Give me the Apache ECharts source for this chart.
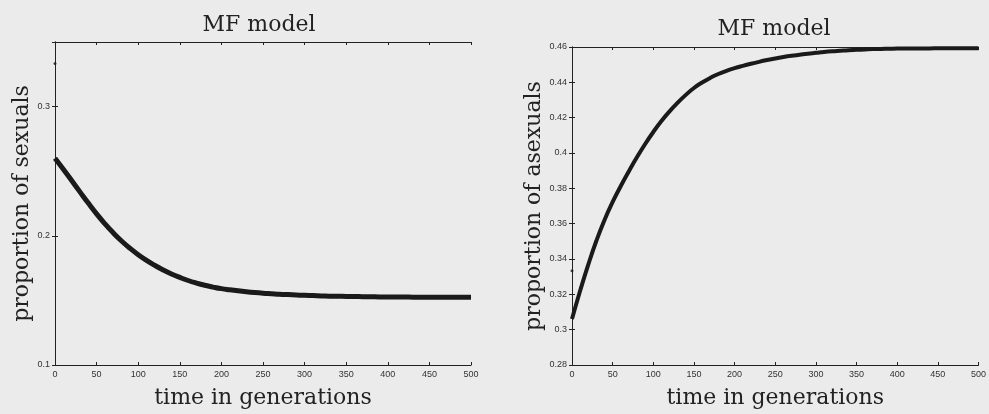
<!DOCTYPE html>
<html>
<head>
    <meta charset="utf-8"/>
    <title>MF model</title>
    <script src="https://cdn.jsdelivr.net/npm/echarts@6/dist/echarts.min.js"></script>
    <style>
        html, body { margin: 0; padding: 0; background: #ebebeb; }
    </style>
</head>
<body>
<div id="main" style="width: 989px; height: 414px"></div>
<script type="text/javascript">
    // generations sampled every 10
    var generations = [0, 10, 20, 30, 40, 50, 60, 70, 80, 90, 100, 110, 120, 130, 140, 150, 160, 170, 180, 190,
        200, 210, 220, 230, 240, 250, 260, 270, 280, 290, 300, 310, 320, 330, 340, 350, 360, 370, 380, 390,
        400, 410, 420, 430, 440, 450, 460, 470, 480, 490, 500];

    // proportion of sexuals (left panel)
    var sexuals = [0.260, 0.2515, 0.2428, 0.2340, 0.2253, 0.2170, 0.2093, 0.2023, 0.1960, 0.1904,
        0.1854, 0.1810, 0.1771, 0.1736, 0.1705, 0.1678, 0.1654, 0.1634, 0.1617, 0.1603,
        0.1591, 0.1582, 0.1574, 0.1567, 0.1561, 0.1556, 0.1552, 0.1548, 0.1545, 0.1542,
        0.1539, 0.1537, 0.1535, 0.1533, 0.1532, 0.1531, 0.1530, 0.1529, 0.1528, 0.1527,
        0.1527, 0.1526, 0.1526, 0.1525, 0.1525, 0.1525, 0.1524, 0.1524, 0.1524, 0.1524, 0.1524];

    // proportion of asexuals (right panel)
    var asexuals = [0.306, 0.322, 0.3368, 0.3503, 0.3621, 0.3723, 0.3813, 0.3897, 0.3977, 0.4051,
        0.4119, 0.4181, 0.4236, 0.4285, 0.4329, 0.4368, 0.4399, 0.4425, 0.4447, 0.4465,
        0.4480, 0.4493, 0.4505, 0.4516, 0.4526, 0.4535, 0.4543, 0.4550, 0.4556, 0.4562,
        0.4567, 0.4572, 0.4576, 0.4579, 0.4582, 0.4584, 0.4586, 0.4588, 0.4589, 0.4590,
        0.4591, 0.4591, 0.4592, 0.4592, 0.4592, 0.4593, 0.4593, 0.4593, 0.4593, 0.4593, 0.4593];

    // starting value at generation 0 (isolated dot)
    var startSexual = 0.3333;
    var startAsexual = 0.3333;

    var leftY = { min: 0.1, max: 0.35, interval: 0.1 };
    var rightY = { min: 0.28, max: 0.46, interval: 0.02 };

    function pairs(vals) {
        return generations.map(function (g, i) { return [g, vals[i]]; });
    }

    var serif = 'DejaVu Serif';
    var lineStyle = { color: '#222', width: 1 };
    var tickLabel = { fontFamily: 'Liberation Sans', fontSize: 9, color: '#333', margin: 5 };

    function xMain(grid) {
        return {
            type: 'value', gridIndex: grid, min: 0, max: 500, interval: 50,
            name: 'time in generations', nameLocation: 'middle', nameGap: 22,
            nameTextStyle: { fontFamily: serif, fontSize: 22, color: '#222' },
            axisLine: { lineStyle: lineStyle },
            axisTick: { inside: true, length: 3, lineStyle: lineStyle },
            axisLabel: tickLabel,
            splitLine: { show: false }
        };
    }
    function xTop(grid) {
        return {
            type: 'value', gridIndex: grid, position: 'top', min: 0, max: 500, interval: 50,
            axisLine: { lineStyle: lineStyle },
            axisTick: { inside: true, length: 3, lineStyle: lineStyle },
            axisLabel: { show: false },
            splitLine: { show: false }
        };
    }
    function yMain(grid, r, name, gap) {
        return {
            type: 'value', gridIndex: grid, min: r.min, max: r.max, interval: r.interval,
            name: name, nameLocation: 'middle', nameGap: gap, nameRotate: 90,
            nameTextStyle: { fontFamily: serif, fontSize: 22, color: '#222' },
            axisLine: { show: true, lineStyle: lineStyle },
            axisTick: { show: true, inside: true, length: 3, lineStyle: lineStyle },
            axisLabel: Object.assign({ showMaxLabel: grid === 1 }, tickLabel),
            splitLine: { show: false }
        };
    }
    function yRight(grid, r) {
        return {
            type: 'value', gridIndex: grid, position: 'right', min: r.min, max: r.max, interval: r.interval,
            axisLine: { show: true, lineStyle: lineStyle },
            axisTick: { show: true, inside: true, length: 3, lineStyle: lineStyle },
            axisLabel: { show: false },
            splitLine: { show: false }
        };
    }

    var myChart = echarts.init(document.getElementById('main'));

    var option = {
        backgroundColor: '#ebebeb',
        animation: false,
        title: [
            { text: 'MF model', left: 254, top: 9, textAlign: 'center',
              textStyle: { fontFamily: serif, fontSize: 22, fontWeight: 'normal', color: '#222' } },
            { text: 'MF model', left: 769, top: 13, textAlign: 'center',
              textStyle: { fontFamily: serif, fontSize: 22, fontWeight: 'normal', color: '#222' } }
        ],
        grid: [
            { left: 55, top: 42, width: 416, height: 329 },
            { left: 572, top: 47, width: 413, height: 324 }
        ],
        xAxis: [xMain(0), xTop(0), xMain(1), xTop(1)],
        yAxis: [
            yMain(0, leftY, 'proportion of sexuals', 20), yRight(0, leftY),
            yMain(1, rightY, 'proportion of asexuals', 24), yRight(1, rightY)
        ],
        series: [
            {
                type: 'line', xAxisIndex: 0, yAxisIndex: 0, data: pairs(sexuals),
                smooth: true, showSymbol: false,
                lineStyle: { color: '#1a1a1a', width: 5 }
            },
            {
                type: 'scatter', xAxisIndex: 0, yAxisIndex: 0, data: [[0, startSexual]],
                symbolSize: 3, itemStyle: { color: '#1a1a1a' }
            },
            {
                type: 'line', xAxisIndex: 2, yAxisIndex: 2, data: pairs(asexuals),
                smooth: true, showSymbol: false,
                lineStyle: { color: '#1a1a1a', width: 4 }
            },
            {
                type: 'scatter', xAxisIndex: 2, yAxisIndex: 2, data: [[0, startAsexual]],
                symbolSize: 3, itemStyle: { color: '#1a1a1a' }
            }
        ]
    };

    myChart.setOption(option);
</script>
</body>
</html>
